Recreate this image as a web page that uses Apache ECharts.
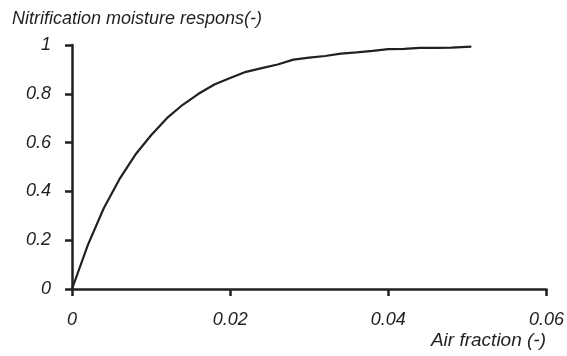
<!DOCTYPE html>
<html>
<head>
<meta charset="utf-8">
<script src="https://cdn.jsdelivr.net/npm/echarts@6/dist/echarts.min.js"></script>
<style>
  html, body { margin: 0; padding: 0; background: #fff; }
  #chart { width: 567px; height: 356px; }
</style>
</head>
<body>
<div id="chart"></div>
<script>
// Air-filled pore fraction (-)
const airFraction = [0, 0.002, 0.004, 0.006, 0.008, 0.010, 0.012, 0.014, 0.016, 0.018,
  0.020, 0.022, 0.024, 0.026, 0.028, 0.030, 0.032, 0.034, 0.036, 0.038,
  0.040, 0.042, 0.044, 0.046, 0.048, 0.0505];
// Nitrification moisture response (-)
const response = [0, 0.18, 0.33, 0.45, 0.55, 0.63, 0.70, 0.755, 0.80, 0.838,
  0.865, 0.89, 0.905, 0.92, 0.94, 0.948, 0.955, 0.965, 0.97, 0.976,
  0.983, 0.984, 0.988, 0.988, 0.989, 0.993];
const xTicks = { min: 0, max: 0.06, step: 0.02 };
const yTicks = { min: 0, max: 1, step: 0.2 };

const font = 'Liberation Sans, Arial, sans-serif';
const ink = '#231f20';

const chart = echarts.init(document.getElementById('chart'), null, { renderer: 'canvas' });
chart.setOption({
  animation: false,
  backgroundColor: '#fff',
  title: [
    { text: 'Nitrification moisture respons(-)', left: 7, top: 5,
      textStyle: { fontFamily: font, fontStyle: 'italic', fontWeight: 'normal', fontSize: 18, color: ink } },
    { text: 'Air fraction (-)', right: 16, top: 326,
      textStyle: { fontFamily: font, fontStyle: 'italic', fontWeight: 'normal', fontSize: 19, color: ink } }
  ],
  grid: { left: 72, right: 17, top: 45, bottom: 67 },
  xAxis: {
    type: 'value', min: xTicks.min, max: xTicks.max, interval: xTicks.step,
    splitLine: { show: false },
    axisLine: { lineStyle: { color: ink, width: 2.5 } },
    axisTick: { show: true, length: 7, lineStyle: { color: ink, width: 2.5 } },
    axisLabel: { margin: 22, fontFamily: font, fontStyle: 'italic', fontSize: 18, color: ink }
  },
  yAxis: {
    type: 'value', min: yTicks.min, max: yTicks.max, interval: yTicks.step,
    splitLine: { show: false },
    axisLine: { show: true, lineStyle: { color: ink, width: 2.5 } },
    axisTick: { show: true, length: 7, lineStyle: { color: ink, width: 2.5 } },
    axisLabel: { margin: 21, fontFamily: font, fontStyle: 'italic', fontSize: 18, color: ink }
  },
  series: [{
    type: 'line',
    data: airFraction.map((x, i) => [x, response[i]]),
    showSymbol: false,
    smooth: false,
    lineStyle: { color: ink, width: 2.2 }
  }]
});
</script>
</body>
</html>
